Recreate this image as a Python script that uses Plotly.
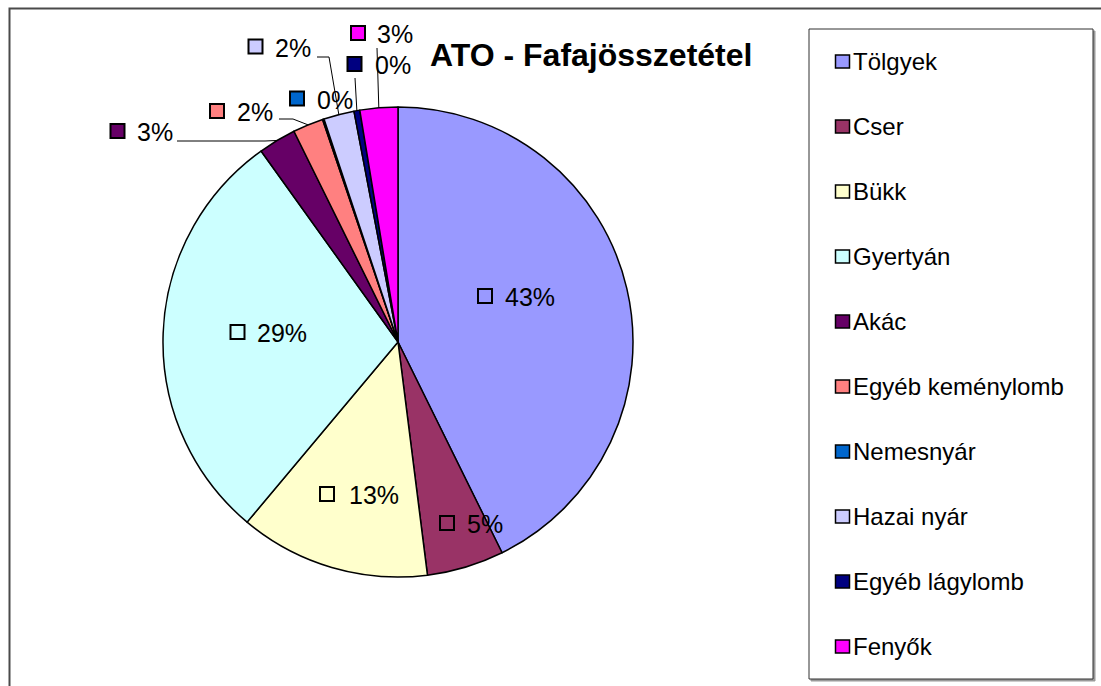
import plotly.graph_objects as go
import math

# ---------------- data ----------------
categories = ["Tölgyek", "Cser", "Bükk", "Gyertyán", "Akác",
              "Egyéb keménylomb", "Nemesnyár", "Hazai nyár",
              "Egyéb lágylomb", "Fenyők"]
values = [42.7, 5.3, 13.1, 29.0, 2.6, 2.1, 0.1, 2.1, 0.4, 2.6]
colors = ["#9999FF", "#993366", "#FFFFCC", "#CCFFFF", "#660066",
          "#FF8080", "#0066CC", "#CCCCFF", "#000080", "#FF00FF"]
title_text = "ATO - Fafajösszetétel"

# ---------------- layout (pixels) ----------------
W, H = 1101, 686
CX, CY, R = 398, 342, 235
FONT = "Arial, Liberation Sans, sans-serif"

# label placement: square centre (x, y), text left x, leader start, leader elbow (None = no leader)
label_pos = [
    ((485, 296), 505, None, None),
    ((447, 523), 467, None, None),
    ((327, 494), 349, None, None),
    ((237.5, 332), 257, None, None),
    ((117.5, 131), 137, (177, 141), (265, 141)),
    ((217, 111), 237, (279, 119), (293, 119)),
    ((297, 98.5), 317, None, None),
    ((255.5, 46.5), 275, (317, 57), (329, 57)),
    ((354.5, 64), 375, (355, 78), (355, 78)),
    ((358, 33), 377, (377, 48), (377, 48)),
]


def px(x):
    return x / W


def py(y):
    return 1 - y / H


fig = go.Figure()
fig.add_trace(go.Pie(
    labels=categories, values=values, sort=False, direction="clockwise",
    rotation=0, textinfo="none", showlegend=False,
    marker=dict(colors=colors, line=dict(color="black", width=1.5)),
    domain=dict(x=[px(CX - R), px(CX + R)], y=[py(CY + R), py(CY - R)]),
))

shapes = []
annotations = []

# outer chart border
shapes.append(dict(type="rect", xref="paper", yref="paper",
                   x0=px(9.5), x1=px(W + 20), y0=py(H + 20), y1=py(8.5),
                   line=dict(color="#4a4a4a", width=2), fillcolor="rgba(0,0,0,0)"))

# title
annotations.append(dict(text="<b>" + title_text + "</b>", x=px(591), y=py(55),
                        xref="paper", yref="paper", showarrow=False,
                        xanchor="center", yanchor="middle",
                        font=dict(family=FONT, size=32, color="black")))

# data labels
total = sum(values)
cum = 0.0
for i, v in enumerate(values):
    mid = (cum + v / 2) / total * 2 * math.pi
    cum += v
    ax, ay = CX + R * math.sin(mid), CY - R * math.cos(mid)
    (sx, sy), tx, lstart, lelbow = label_pos[i]
    pct = f"{round(v / total * 100)}%"
    shapes.append(dict(type="rect", xref="paper", yref="paper",
                       x0=px(sx - 7), x1=px(sx + 7), y0=py(sy + 7), y1=py(sy - 7),
                       line=dict(color="black", width=2), fillcolor=colors[i]))
    annotations.append(dict(text=pct, x=px(tx - 2), y=py(sy + 1), xref="paper", yref="paper",
                            showarrow=False, xanchor="left", yanchor="middle",
                            font=dict(family=FONT, size=25, color="black")))
    if lstart is not None:
        path = (f"M {px(lstart[0])} {py(lstart[1])} L {px(lelbow[0])} {py(lelbow[1])} "
                f"L {px(ax)} {py(ay)}")
        shapes.append(dict(type="path", xref="paper", yref="paper", path=path,
                           line=dict(color="black", width=1)))

# legend box
LX0, LY0, LX1, LY1 = 809, 29, 1093, 679
shapes.append(dict(type="rect", xref="paper", yref="paper",
                   x0=px(LX0 + 2), x1=px(LX1 + 2), y0=py(LY1 + 2), y1=py(LY0 + 2),
                   line=dict(color="#9a9a9a", width=1), fillcolor="#9a9a9a"))
shapes.append(dict(type="rect", xref="paper", yref="paper",
                   x0=px(LX0), x1=px(LX1), y0=py(LY1), y1=py(LY0),
                   line=dict(color="#303030", width=1), fillcolor="white"))
for i, name in enumerate(categories):
    yc = 61.5 + 65 * i
    shapes.append(dict(type="rect", xref="paper", yref="paper",
                       x0=px(835.5), x1=px(849.5), y0=py(yc + 6.5), y1=py(yc - 6.5),
                       line=dict(color="black", width=1.5), fillcolor=colors[i]))
    annotations.append(dict(text=name, x=px(851), y=py(yc), xref="paper", yref="paper",
                            showarrow=False, xanchor="left", yanchor="middle",
                            font=dict(family=FONT, size=24, color="black")))

fig.update_layout(
    width=W, height=H, autosize=False,
    margin=dict(l=0, r=0, t=0, b=0, pad=0),
    paper_bgcolor="white", plot_bgcolor="white",
    shapes=shapes, annotations=annotations,
    font=dict(family=FONT),
)

fig.write_html("out.html", config={"displayModeBar": False},
               post_script="document.body.style.margin='0';document.body.style.overflow='hidden';")
